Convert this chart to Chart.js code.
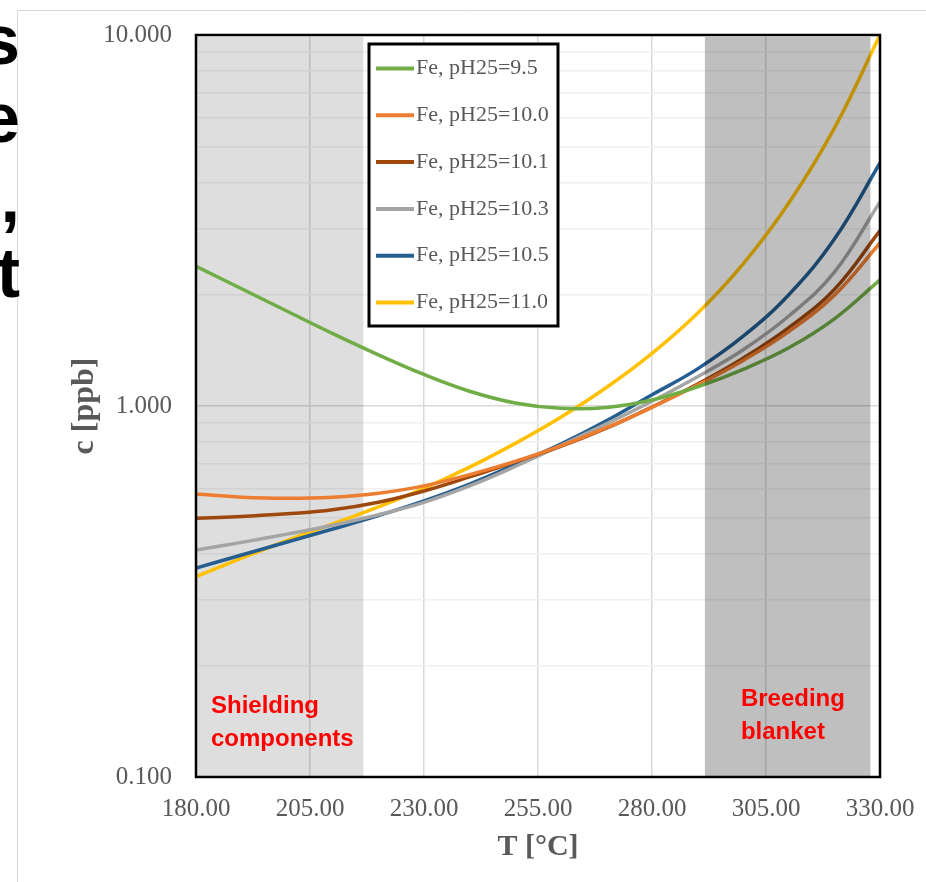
<!DOCTYPE html>
<html>
<head>
<meta charset="utf-8">
<title>Fe solubility vs temperature</title>
<script src="https://cdn.jsdelivr.net/npm/chart.js@4.4.1/dist/chart.umd.min.js"></script>
<style>
  html, body { margin: 0; padding: 0; background: #fff; overflow: hidden; }
  #wrap { position: relative; width: 926px; height: 882px; }
  #grafik { position: absolute; left: 0; top: 0; }
  .potong {
    position: absolute; left: -80px; width: 100px; text-align: right;
    font: bold 70px "Liberation Sans", Arial, sans-serif; color: #000; line-height: 70px;
  }
</style>
</head>
<body>
<div id="wrap">
  <canvas id="grafik" width="926" height="882"></canvas>
  <div class="potong" style="top:5px">s</div>
  <div class="potong" style="top:83px">e</div>
  <div class="potong" style="top:163px">,</div>
  <div class="potong" style="top:238px">t</div>
</div>
<script>
// === DATA ===
const suhu = [180, 190, 200, 210, 220, 230, 240, 250, 260, 270, 280, 290, 300, 310, 320, 330];

const fePh95  = [2.38, 2.07, 1.80, 1.567, 1.374, 1.216, 1.096, 1.019, 0.986, 0.991, 1.038, 1.127, 1.256, 1.435, 1.718, 2.188];
const fePh100 = [0.579, 0.568, 0.564, 0.568, 0.582, 0.609, 0.653, 0.709, 0.781, 0.874, 0.992, 1.139, 1.327, 1.587, 1.990, 2.75];
const fePh101 = [0.498, 0.504, 0.512, 0.525, 0.550, 0.590, 0.644, 0.707, 0.778, 0.871, 0.994, 1.146, 1.346, 1.627, 2.062, 2.97];
const fePh103 = [0.409, 0.429, 0.4515, 0.477, 0.509, 0.550, 0.609, 0.687, 0.783, 0.895, 1.030, 1.199, 1.418, 1.748, 2.295, 3.55];
const fePh105 = [0.366, 0.3967, 0.430, 0.466, 0.5065, 0.555, 0.616, 0.695, 0.789, 0.912, 1.072, 1.259, 1.542, 1.995, 2.818, 4.519];
const fePh110 = [0.347, 0.389, 0.434, 0.481, 0.535, 0.600, 0.684, 0.793, 0.933, 1.122, 1.387, 1.778, 2.415, 3.524, 5.61, 10.0];

const seriLabel = ['Fe, pH25=9.5', 'Fe, pH25=10.0', 'Fe, pH25=10.1', 'Fe, pH25=10.3', 'Fe, pH25=10.5', 'Fe, pH25=11.0'];
const seriWarna = ['#70AD47', '#ED7D31', '#9E480E', '#A5A5A5', '#255E91', '#FFC000'];
const seriNilai = [fePh95, fePh100, fePh101, fePh103, fePh105, fePh110];

const xTicks = [180, 205, 230, 255, 280, 305, 330];
const yTicks = [0.1, 0.2, 0.3, 0.4, 0.5, 0.6, 0.7, 0.8, 0.9, 1, 2, 3, 4, 5, 6, 7, 8, 9, 10];
const yLabelTicks = [0.1, 1, 10];

// zona suhu (°C) + teks merah
const zonaSuhu = [[180, 216.7], [291.6, 327.9]];
const zonaTeks = [['Shielding', 'components'], ['Breeding', 'blanket']];

// === STYLE ===
const abuTeks = '#595959';
const serif = '"Liberation Serif", "Times New Roman", serif';

// === PLUGIN: latar + bingkai luar ===
const pluginLatar = {
  id: 'latar',
  beforeDraw(chart) {
    const ctx = chart.ctx;
    ctx.save();
    ctx.fillStyle = '#fff';
    ctx.fillRect(0, 0, chart.width, chart.height);
    ctx.strokeStyle = '#d9d9d9';
    ctx.lineWidth = 1;
    ctx.beginPath();
    ctx.moveTo(17.5, chart.height);
    ctx.lineTo(17.5, 10.5);
    ctx.lineTo(chart.width, 10.5);
    ctx.stroke();
    ctx.restore();
  }
};

function gambarZona(chart, i, warna) {
  const { ctx, chartArea } = chart;
  const x = chart.scales.x;
  const kiri = x.getPixelForValue(zonaSuhu[i][0]);
  const kanan = x.getPixelForValue(zonaSuhu[i][1]);
  ctx.save();
  ctx.fillStyle = warna;
  ctx.fillRect(kiri, chartArea.top + 2, kanan - kiri, chartArea.bottom - chartArea.top - 2);
  ctx.restore();
}

// padding label bawaan Chart.js dibuang, biar layout.padding yang atur
function nolPadding(ax) {
  ax.paddingTop = 0;
  ax.paddingBottom = 0;
  ax.paddingLeft = 0;
  ax.paddingRight = 0;
}

// === PLUGIN: zona, bingkai, teks, legenda ===
const pluginZona = {
  id: 'zona',
  beforeDatasetsDraw(chart) {
    gambarZona(chart, 0, 'rgba(0,0,0,0.13)');
  },
  afterDatasetsDraw(chart) {
    const { ctx, chartArea } = chart;
    const x = chart.scales.x;
    gambarZona(chart, 1, 'rgba(0,0,0,0.25)');

    // bingkai area plot
    ctx.save();
    ctx.strokeStyle = '#000';
    ctx.lineWidth = 2.5;
    ctx.strokeRect(chartArea.left, chartArea.top, chartArea.right - chartArea.left, chartArea.bottom - chartArea.top);

    // teks merah di zona
    const posTeks = [{ dx: 15, y: 713 }, { dx: 36, y: 706 }];
    ctx.fillStyle = '#ff0000';
    ctx.font = 'bold 24px "Liberation Sans", Arial, sans-serif';
    ctx.textAlign = 'left';
    ctx.textBaseline = 'alphabetic';
    zonaTeks.forEach((baris, i) => {
      const kiri = x.getPixelForValue(zonaSuhu[i][0]);
      baris.forEach((t, j) => ctx.fillText(t, kiri + posTeks[i].dx, posTeks[i].y + j * 33));
    });

    // legenda
    const box = { x: 369, y: 44, w: 189, h: 282 };
    ctx.fillStyle = '#fff';
    ctx.fillRect(box.x, box.y, box.w, box.h);
    ctx.lineWidth = 3;
    ctx.strokeStyle = '#000';
    ctx.strokeRect(box.x, box.y, box.w, box.h);
    ctx.font = '22px ' + serif;
    ctx.textBaseline = 'middle';
    seriLabel.forEach((lbl, i) => {
      const y = 68.5 + i * 46.8;
      ctx.strokeStyle = seriWarna[i];
      ctx.lineWidth = 4;
      ctx.beginPath();
      ctx.moveTo(376, y);
      ctx.lineTo(414, y);
      ctx.stroke();
      ctx.fillStyle = abuTeks;
      ctx.fillText(lbl, 416, y);
    });
    ctx.restore();
  }
};

// === CHART ===
const datasets = seriLabel.map((lbl, i) => ({
  label: lbl,
  data: suhu.map((t, k) => ({ x: t, y: seriNilai[i][k] })),
  borderColor: seriWarna[i],
  backgroundColor: seriWarna[i],
  borderWidth: 3.5,
  pointRadius: 0,
  tension: 0.4,
  fill: false
}));

new Chart(document.getElementById('grafik').getContext('2d'), {
  type: 'line',
  data: { datasets },
  options: {
    responsive: false,
    devicePixelRatio: 1,
    animation: false,
    layout: { padding: { left: 0, top: 35, right: 46, bottom: 0 } },
    plugins: { legend: { display: false }, tooltip: { enabled: false } },
    scales: {
      x: {
        type: 'linear',
        min: 180, max: 330,
        afterBuildTicks: (ax) => { ax.ticks = xTicks.map(v => ({ value: v })); },
        afterFit: (ax) => { ax.height = 105; nolPadding(ax); },
        grid: { color: '#d9d9d9', lineWidth: 1.5, drawTicks: false },
        border: { display: false },
        ticks: {
          padding: 17,
          color: abuTeks,
          font: { family: serif, size: 25 },
          maxRotation: 0,
          autoSkip: false,
          callback: (v) => Number(v).toFixed(2)
        },
        title: {
          display: true,
          text: 'T [°C]',
          color: abuTeks,
          font: { family: serif, size: 30, weight: 'bold' },
          padding: { top: 0, bottom: 17 }
        }
      },
      y: {
        type: 'logarithmic',
        min: 0.1, max: 10,
        afterBuildTicks: (ax) => { ax.ticks = yTicks.map(v => ({ value: v })); },
        afterFit: (ax) => { ax.width = 196; nolPadding(ax); },
        grid: {
          drawTicks: false,
          lineWidth: 1.5,
          color: (c) => (c.tick && yLabelTicks.includes(c.tick.value)) ? '#d9d9d9' : '#f0f0f0'
        },
        border: { display: false },
        ticks: {
          padding: 24,
          color: abuTeks,
          font: { family: serif, size: 25 },
          autoSkip: false,
          callback: (v) => yLabelTicks.includes(v) ? Number(v).toFixed(3) : ''
        },
        title: {
          display: true,
          text: 'c [ppb]',
          color: abuTeks,
          font: { family: serif, size: 32, weight: 'bold' },
          padding: { top: 66, bottom: 0 }
        }
      }
    }
  },
  plugins: [pluginLatar, pluginZona]
});
</script>
</body>
</html>
